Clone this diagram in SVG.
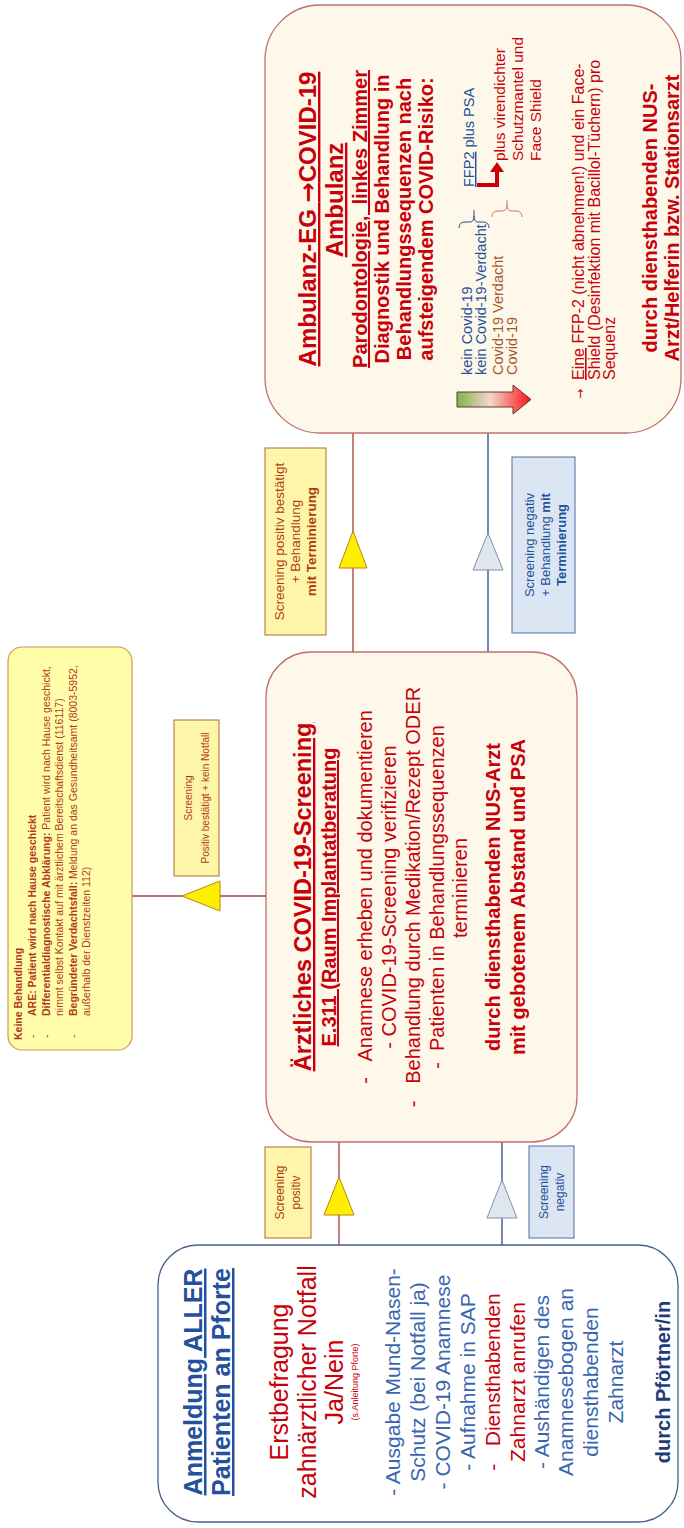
<svg xmlns="http://www.w3.org/2000/svg" width="684" height="1528" viewBox="0 0 684 1528">
<defs>
<style>
text{font-family:"Liberation Sans",Arial,sans-serif;}
.c{text-anchor:middle}
.b{font-weight:bold}
.u{text-decoration:underline}
.ar{font-family:"DejaVu Sans",sans-serif}
.red{fill:#c8000a}
.blue{fill:#24509c}
.lb{fill:#3a66b0}
.navy{fill:#1f3a78}
.br{fill:#b23a1c}
.brn{fill:#a8552e}
.lnR{stroke:#a0403a;stroke-width:1.3;fill:none}
.lnB{stroke:#2c4a85;stroke-width:1.3;fill:none}
.triY{fill:#ffee00;stroke:#b8860b;stroke-width:1}
.triB{fill:#dfe6f0;stroke:#8090b0;stroke-width:1}
.labY{fill:#fdf6a8;stroke:#b06a30;stroke-width:1}
.labB{fill:#dce6f2;stroke:#4a6fa5;stroke-width:1}
</style>
<linearGradient id="gr" x1="0" y1="0" x2="0" y2="1">
<stop offset="0" stop-color="#7fb547"/>
<stop offset="0.45" stop-color="#f3d6cc"/>
<stop offset="1" stop-color="#ff1010"/>
</linearGradient>
</defs>
<g transform="translate(0,1528) rotate(-90)">

<g id="connectors">
<line class="lnR" x1="283" y1="339" x2="386" y2="339"/>
<polygon class="triY" points="351,339 313,324 313,354"/>
<line class="lnB" x1="283" y1="502" x2="386" y2="502"/>
<polygon class="triB" points="348,502 310,487 310,517"/>
<line class="lnR" x1="876" y1="353" x2="1095" y2="353"/>
<polygon class="triY" points="997,353 960,339 960,367"/>
<line class="lnB" x1="876" y1="488" x2="1095" y2="488"/>
<polygon class="triB" points="995,488 958,473 958,503"/>
<line class="lnR" x1="632" y1="266" x2="632" y2="132"/>
<polygon class="triY" points="632,182 617,220 647,220"/>

<rect class="labY" x="290" y="265" width="91" height="46"/>
<text class="c br" x="335.5" y="284" font-size="12">Screening</text>
<text class="c br" x="335.5" y="300" font-size="12">positiv</text>

<rect class="labB" x="290" y="529" width="92" height="45"/>
<text class="c blue" x="336" y="548" font-size="12">Screening</text>
<text class="c blue" x="336" y="564" font-size="12">negativ</text>

<rect class="labY" x="893" y="265" width="187" height="61"/>
<text class="c br" x="986.5" y="284" font-size="13.5">Screening positiv bestätigt</text>
<text class="c br" x="986.5" y="300" font-size="13.5">+ Behandlung</text>
<text class="c br b" x="986.5" y="316" font-size="13.5">mit Terminierung</text>

<rect class="labB" x="895" y="512" width="176" height="63"/>
<text class="c blue" x="983" y="534" font-size="13">Screening negativ</text>
<text class="c blue" x="983" y="550" font-size="13">+ Behandlung <tspan class="b">mit</tspan></text>
<text class="c blue b" x="983" y="566" font-size="13">Terminierung</text>

<rect class="labY" x="652" y="174" width="156" height="45"/>
<text class="c br" x="730" y="192" font-size="10">Screening</text>
<text class="c br" x="730" y="209" font-size="10">Positiv bestätigt + kein Notfall</text>
</g>

<g id="n1">
<rect x="6" y="158" width="277" height="520" rx="40" fill="#ffffff" stroke="#44608f" stroke-width="1.3"/>
<text class="c b u blue" x="146" y="202" font-size="25">Anmeldung ALLER</text>
<text class="c b u blue" x="146" y="230" font-size="25">Patienten an Pforte</text>
<text class="c red" x="146" y="288" font-size="25">Erstbefragung</text>
<text class="c red" x="146" y="316" font-size="25">zahnärztlicher Notfall</text>
<text class="c red" x="146" y="343" font-size="25">Ja/Nein</text>
<text class="c red" x="146" y="358" font-size="9">(s.Anleitung Pforte)</text>
<text class="c lb" x="146" y="400" font-size="21">- Ausgabe Mund-Nasen-</text>
<text class="c lb" x="146" y="425" font-size="21">Schutz (bei Notfall ja)</text>
<text class="c lb" x="146" y="450" font-size="21">- COVID-19 Anamnese</text>
<text class="c lb" x="146" y="475" font-size="21">- Aufnahme in SAP</text>
<text class="c red" x="146" y="500" font-size="21" xml:space="preserve">-   Diensthabenden</text>
<text class="c red" x="146" y="525" font-size="21">Zahnarzt anrufen</text>
<text class="c lb" x="146" y="549" font-size="21">- Aushändigen des</text>
<text class="c lb" x="146" y="573" font-size="21">Anamnesebogen an</text>
<text class="c lb" x="146" y="598" font-size="21">diensthabenden</text>
<text class="c lb" x="146" y="623" font-size="21">Zahnarzt</text>
<text class="c b navy" x="146" y="670" font-size="20">durch Pförtner/in</text>
</g>

<g id="n2">
<rect x="386" y="266" width="490" height="311" rx="45" fill="#fdf8ea" stroke="#c07070" stroke-width="1.3"/>
<text class="c b u red" x="631" y="311" font-size="23.5">Ärztliches COVID-19-Screening</text>
<text class="c b u red" x="631" y="336" font-size="20">E.311 (Raum Implantatberatung</text>
<text class="c red" x="631" y="372" font-size="20" xml:space="preserve">-   Anamnese erheben und dokumentieren</text>
<text class="c red" x="631" y="396" font-size="20" xml:space="preserve">- COVID-19-Screening verifizieren</text>
<text class="c red" x="631" y="420" font-size="20" xml:space="preserve">-   Behandlung durch Medikation/Rezept ODER</text>
<text class="c red" x="631" y="444" font-size="20" xml:space="preserve">-  Patienten in Behandlungssequenzen</text>
<text class="c red" x="640" y="467" font-size="20">terminieren</text>
<text class="c b red" x="631" y="500" font-size="20">durch diensthabenden NUS-Arzt</text>
<text class="c b red" x="631" y="525" font-size="20">mit gebotenem Abstand und PSA</text>
</g>

<g id="n3">
<rect x="1095" y="265" width="428" height="416" rx="55" fill="#fdf8ea" stroke="#c07070" stroke-width="1.3"/>
<text class="c b u red" x="1309" y="316" font-size="24">Ambulanz-EG <tspan class="ar">→</tspan>COVID-19</text>
<text class="c b u red" x="1328" y="343" font-size="24">Ambulanz</text>
<text class="c b u red" x="1309" y="367" font-size="20" xml:space="preserve">Parodontologie,  linkes Zimmer</text>
<text class="c b red" x="1309" y="389" font-size="20">Diagnostik und Behandlung in</text>
<text class="c b red" x="1309" y="411" font-size="20">Behandlungssequenzen nach</text>
<text class="c b red" x="1309" y="433" font-size="20">aufsteigendem COVID-Risiko:</text>
<path d="M1121,457 H1136 V513 H1143 L1128.5,531 L1114,513 H1121 Z" fill="url(#gr)" stroke="#5a3a3a" stroke-width="1"/>
<text class="blue" x="1153" y="472" font-size="14.5">kein Covid-19</text>
<text class="blue" x="1153" y="486" font-size="14.5">kein Covid-19-Verdacht</text>
<text class="brn" x="1153" y="503" font-size="14.5">Covid-19 Verdacht</text>
<text class="brn" x="1153" y="517" font-size="14.5">Covid-19</text>
<path d="M1300,459 Q1306,459 1306,465 L1306,470 Q1306,474 1312,474 Q1306,474 1306,478 L1306,483 Q1306,489 1300,489 M1312,474 H1318" fill="none" stroke="#2c4a85" stroke-width="1"/>
<text class="blue" x="1341" y="474" font-size="14.5"><tspan class="u">FFP2</tspan> plus PSA</text>
<path d="M1311,492 Q1317,492 1317,498 L1317,502 Q1317,507 1323,507 Q1317,507 1317,512 L1317,516 Q1317,522 1311,522 M1323,507 H1328" fill="none" stroke="#d07070" stroke-width="1"/>
<path d="M1343,477 V497 H1357" fill="none" stroke="#c8000a" stroke-width="4"/>
<polygon points="1356,490 1366,497 1356,504" fill="#c8000a"/>
<text class="red" x="1367" y="505" font-size="15.5">plus virendichter</text>
<text class="red" x="1367" y="523" font-size="15.5">Schutzmantel und</text>
<text class="red" x="1367" y="541" font-size="15.5">Face Shield</text>
<text class="red ar" x="1129" y="584" font-size="12">→</text>
<text class="red" x="1148" y="584" font-size="16"><tspan class="u">Eine</tspan> FFP-2 (nicht abnehmen!) und ein Face-</text>
<text class="red" x="1148" y="599.5" font-size="16">Shield (Desinfektion mit Bacillol-Tüchern) pro</text>
<text class="red" x="1148" y="615" font-size="16">Sequenz</text>
<text class="c b red" x="1310" y="657" font-size="20">durch diensthabenden NUS-</text>
<text class="c b red" x="1310" y="679" font-size="20">Arzt/Helferin bzw. Stationsarzt</text>
</g>

<g id="n4">
<rect x="478" y="8" width="403" height="124" rx="14" fill="#fffcaa" stroke="#cc9a55" stroke-width="1.2"/>
<text class="b br" x="488" y="22" font-size="10.5">Keine Behandlung</text>
<text class="br" x="490" y="36" font-size="10.5">-</text>
<text class="b br" x="512" y="36" font-size="10.5">ARE: Patient wird nach Hause geschickt</text>
<text class="br" x="490" y="50" font-size="10.5">-</text>
<text class="br" x="512" y="50" font-size="10.5"><tspan class="b">Differentialdiagnostische Abklärung:</tspan> Patient wird nach Hause geschickt,</text>
<text class="br" x="512" y="63" font-size="10.5">nimmt selbst Kontakt auf mit ärztlichem Bereitschaftsdienst (116117)</text>
<text class="br" x="490" y="77" font-size="10.5">-</text>
<text class="br" x="512" y="77" font-size="10.5"><tspan class="b">Begründeter Verdachtsfall:</tspan> Meldung an das Gesundheitsamt (8003-5952,</text>
<text class="br" x="512" y="90" font-size="10.5">außerhalb der Dienstzeiten 112)</text>
</g>

</g>
</svg>
